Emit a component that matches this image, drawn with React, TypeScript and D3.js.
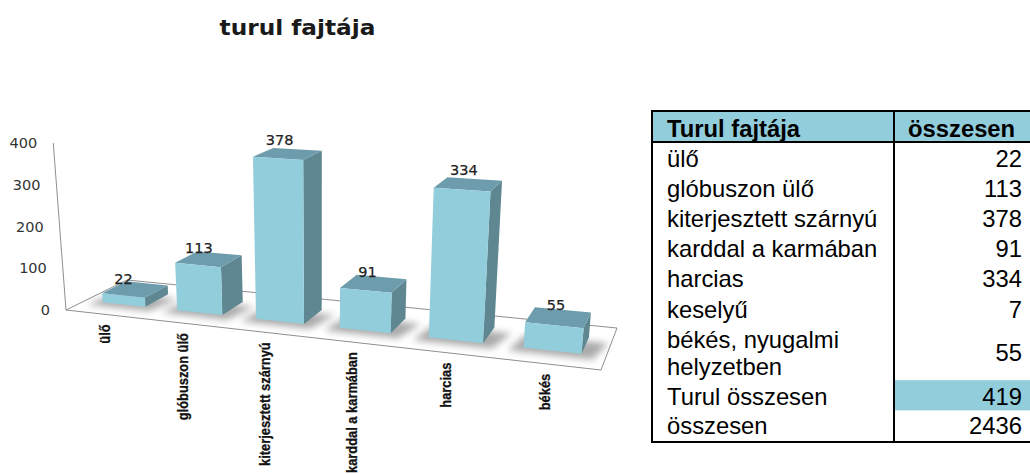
import React from "react";
import * as d3 from "d3";

const categories = ["ülő", "glóbuszon ülő", "kiterjesztett szárnyú", "karddal a karmában", "harcias", "békés"];
const values = [22, 113, 378, 91, 334, 55];
const yTicks = [0, 100, 200, 300, 400];
const chartTitle = "turul fajtája";
const tableHead = ["Turul fajtája", "összesen"];
const tableLabels = ["ülő", "glóbuszon ülő", "kiterjesztett szárnyú", "karddal a karmában", "harcias", "keselyű", "békés, nyugalmi\nhelyzetben", "Turul összesen", "összesen"];
const tableValues = [22, 113, 378, 91, 334, 7, 55, 419, 2436];

// Floor plane homography (unit square to screen quadrilateral)
const Q = { x0: 66, y0: 310, x1: 601, y1: 370, x2: 617, y2: 328, x3: 127, y3: 280 };
const hom = (() => {
  const { x0, y0, x1, y1, x2, y2, x3, y3 } = Q;
  const dx1 = x1 - x2, dx2 = x3 - x2, sx = x0 - x1 + x2 - x3;
  const dy1 = y1 - y2, dy2 = y3 - y2, sy = y0 - y1 + y2 - y3;
  const det = dx1 * dy2 - dx2 * dy1;
  const g = (sx * dy2 - dx2 * sy) / det;
  const h = (dx1 * sy - sx * dy1) / det;
  return { a: x1 - x0 + g * x1, b: x3 - x0 + h * x3, c: x0, d: y1 - y0 + g * y1, e: y3 - y0 + h * y3, f: y0, g, h };
})();

const yScale = d3.scaleLinear().domain([0, 400]).range([0, 167]);
const uScale = d3.scaleBand<string>().domain(categories).range([0, 1]).paddingInner(0.42).paddingOuter(0.24);
const W0 = 0.3, W1 = 0.7;

type P = [number, number];
function project(u: number, w: number, v = 0): P {
  const den = hom.g * u + hom.h * w + 1;
  const x = (hom.a * u + hom.b * w + hom.c) / den;
  const y = (hom.d * u + hom.e * w + hom.f) / den;
  const dy = yScale(v) / Math.pow(den, 0.72);
  return [x + (x - 320) * 0.0003 * dy, y - dy];
}
const poly = (pts: P[]) => (d3.line()(pts) ?? "") + "Z";

const cTop = "#6D9CAC", cSide = "#5F8792", cFront = "#92CDDC";

// Table layout
const tX0 = 652, tX1 = 894, tX2 = 1032, tTop = 111, tHead = 142, tBottom = 442;
const rowHeights = tableLabels.map((l, i) => (l.includes("\n") ? 57 : i === tableLabels.length - 1 ? 28 : 30.2));
const rowTops = d3.cumsum([0, ...rowHeights]).map((v) => tHead + v);
const tableFont = '"Liberation Sans", Arial, sans-serif';
const tableSize = 23.8;

export default function App() {
  return (
    <svg width={1030} height={474} viewBox="0 0 1030 474" style={{ position: "absolute", left: 0, top: 0, background: "#fff" }}>
      <defs>
        <filter id="shadowBlur" x="-30%" y="-100%" width="160%" height="300%">
          <feGaussianBlur stdDeviation="3.5" />
        </filter>
      </defs>
      <text transform="translate(297.5,35) scale(1.107,1)" textAnchor="middle" fontFamily='"DejaVu Sans", sans-serif' fontWeight="bold" fontSize={21} fill="#1a1a1a">{chartTitle}</text>

      {/* floor and axis wall edge */}
      <path d={poly([project(0, 0), project(1, 0), project(1, 1), project(0, 1)])} fill="#fff" stroke="#8f8f8f" strokeWidth={1} />
      <line x1={project(0, 0)[0]} y1={project(0, 0)[1]} x2={project(0, 0, 400)[0]} y2={project(0, 0, 400)[1]} stroke="#8f8f8f" strokeWidth={1} />
      {yTicks.map((t) => {
        const [x, y] = project(0, 0, t);
        return <text key={t} x={x - 16} y={y} dy="0.35em" textAnchor="end" fontFamily='"DejaVu Sans", sans-serif' fontSize={14.5} fill="#333">{t}</text>;
      })}

      {/* shadows */}
      {categories.map((c) => {
        const u0 = uScale(c)!, u1 = u0 + uScale.bandwidth();
        return (
          <g key={c}>
            <path d={poly([project(u0 - 0.022, W0 - 0.1), project(u1 + 0.02, W0 - 0.1), project(u1 + 0.035, W1 - 0.1), project(u0 - 0.01, W1 - 0.1)])} fill="#777" opacity={0.62} filter="url(#shadowBlur)" />
          </g>
        );
      })}

      {/* bars */}
      {categories.map((c, i) => {
        const v = values[i];
        const u0 = uScale(c)!, u1 = u0 + uScale.bandwidth();
        const fb0 = project(u0, W0), fb1 = project(u1, W0), bb1 = project(u1, W1);
        const ft0 = project(u0, W0, v), ft1 = project(u1, W0, v), bt0 = project(u0, W1, v), bt1 = project(u1, W1, v);
        const lab = project(u0 + uScale.bandwidth() * 0.22, W1, v);
        return (
          <g key={c}>
            <path d={poly([fb1, bb1, bt1, ft1])} fill={cSide} />
            <path d={poly([ft0, ft1, bt1, bt0])} fill={cTop} />
            <path d={poly([fb0, fb1, ft1, ft0])} fill={cFront} />
            <text x={lab[0] + (lab[0] - 367) * 0.05} y={lab[1] + 2.5 - v * 0.015} textAnchor="middle" fontFamily='"DejaVu Sans", sans-serif' fontSize={14.5} fill="#222" stroke="#222" strokeWidth={0.25}>{v}</text>
          </g>
        );
      })}

      {/* category labels */}
      {categories.map((c) => {
        const [x, y] = project(uScale(c)! + uScale.bandwidth() / 2, 0);
        return (
          <text key={c} transform={`translate(${x},${y + 10}) rotate(-90) scale(0.92,1)`} textAnchor="end" dy="0.36em" fontFamily={tableFont} fontWeight="bold" fontSize={14} fill="#111" stroke="#111" strokeWidth={0.3}>{c}</text>
        );
      })}

      {/* table */}
      <rect x={tX0} y={tTop} width={tX2 - tX0} height={tHead - tTop} fill={cFront} />
      <rect x={tX1} y={rowTops[7]} width={tX2 - tX1} height={rowHeights[7]} fill={cFront} />
      <rect x={tX0} y={tTop} width={tX2 - tX0} height={tBottom - tTop} fill="none" stroke="#000" strokeWidth={2} />
      <line x1={tX0} x2={tX2} y1={tHead} y2={tHead} stroke="#000" strokeWidth={2} />
      <line x1={tX1} x2={tX1} y1={tTop} y2={tBottom} stroke="#000" strokeWidth={2} />
      <text x={667} y={137} fontFamily={tableFont} fontWeight="bold" fontSize={tableSize} fill="#000">{tableHead[0]}</text>
      <text x={908} y={137} fontFamily={tableFont} fontWeight="bold" fontSize={tableSize} fill="#000">{tableHead[1]}</text>
      {tableLabels.map((l, i) => {
        const lines = l.split("\n");
        const mid = rowTops[i] + rowHeights[i] / 2;
        return (
          <g key={l} fontFamily={tableFont} fontSize={tableSize} fill="#000">
            {lines.map((s, j) => (
              <text key={s} x={667} y={mid + 9.5 + (j - (lines.length - 1) / 2) * 27}>{s}</text>
            ))}
            <text x={1022} y={mid + 9.5} textAnchor="end">{tableValues[i]}</text>
          </g>
        );
      })}
    </svg>
  );
}
